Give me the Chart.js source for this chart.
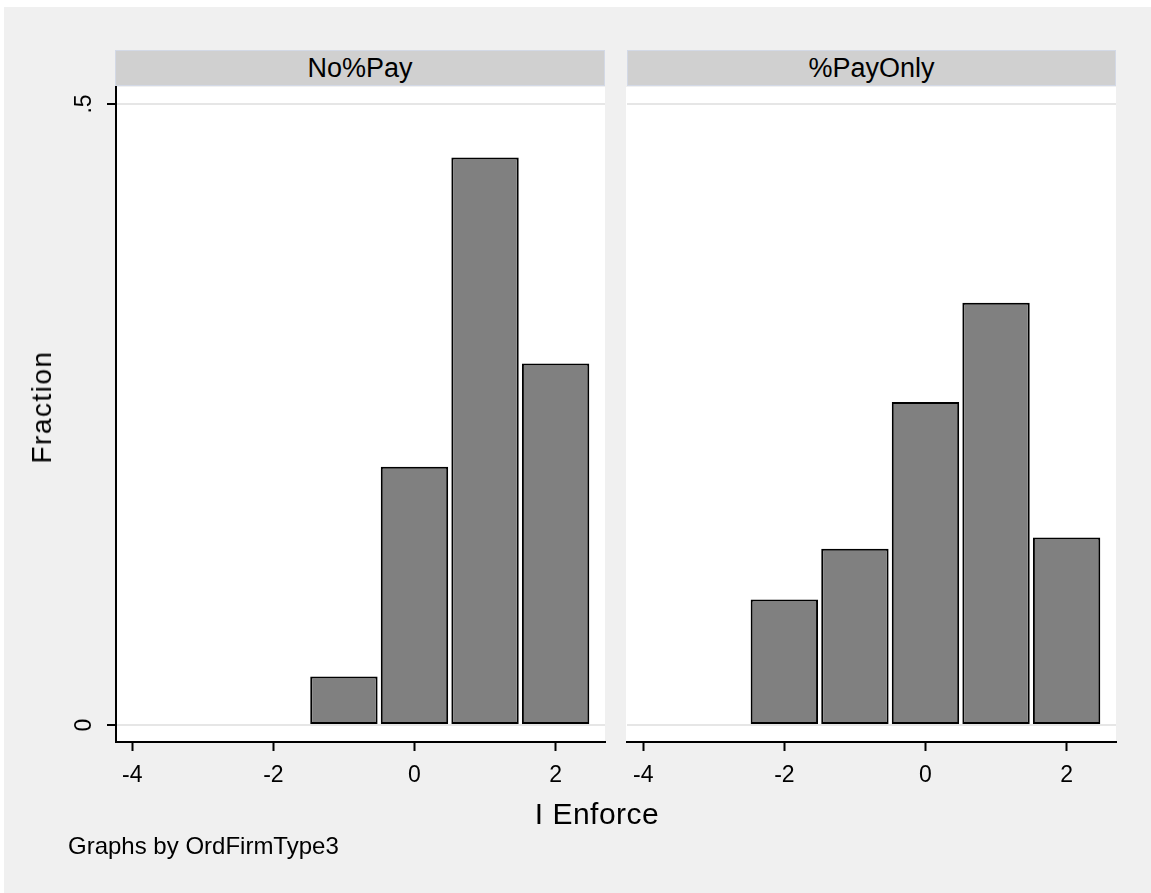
<!DOCTYPE html>
<html>
<head>
<meta charset="utf-8">
<script src="https://cdn.jsdelivr.net/npm/chart.js@4/dist/chart.umd.min.js"></script>
<style>
  html, body { margin: 0; padding: 0; background: #fff; }
  body { width: 1151px; height: 893px; position: relative; overflow: hidden; font-family: "Liberation Sans", Arial, sans-serif; }
  .bg { position: absolute; left: 4px; top: 7px; right: 0; bottom: 0; background: #f0f0f0; }
  canvas { position: absolute; top: 0; }
  .strip { position: absolute; top: 50px; height: 34px; background: #d0d0d0; border: 1px solid #d3d9e6;
           font-size: 27px; line-height: 34px; text-align: center; color: #000; }
  .txt { position: absolute; color: #000; white-space: nowrap; }
</style>
</head>
<body>
<div class="bg"></div>
<canvas id="leftChart" width="616" height="893" style="left:0"></canvas>
<canvas id="rightChart" width="535" height="893" style="left:616px"></canvas>
<div class="strip" style="left:115px; width:488px;">No%Pay</div>
<div class="strip" style="left:627px; width:487px;">%PayOnly</div>
<div class="txt" style="left:42px; top:407px; font-size:28px; letter-spacing:1.5px; transform: translate(-50%, -50%) rotate(-90deg);">Fraction</div>
<div class="txt" style="left:597px; top:814px; font-size:30px; letter-spacing:0.5px; transform: translate(-50%, -50%);">I Enforce</div>
<div class="txt" style="left:68px; top:846px; font-size:24px; transform: translateY(-50%);">Graphs by OrdFirmType3</div>
<script>
// histogram bins (centre of each unit-wide bin) and fractions per panel
const noPayBins = [-1, 0, 1, 2];
const noPayFractions = [0.039, 0.208, 0.457, 0.291];
const payOnlyBins = [-2, -1, 0, 1, 2];
const payOnlyFractions = [0.101, 0.142, 0.260, 0.340, 0.151];

const xTicks = [-4, -2, 0, 2];
const yTicks = [0, 0.5];

const FONT = '"Liberation Sans", Arial, sans-serif';

function stataNum(v) {
  if (v === 0) return '0';
  return String(v).replace(/^(-?)0\./, '$1.');
}

const plotBackground = {
  id: 'plotBackground',
  beforeDraw(chart) {
    const a = chart.chartArea;
    const ctx = chart.ctx;
    ctx.save();
    ctx.fillStyle = '#ffffff';
    ctx.fillRect(a.left - 1, a.top, a.right - a.left + 1, a.bottom - a.top);
    ctx.restore();
  },
};

// y tick labels are rotated like in Stata
const rotatedYLabels = {
  id: 'rotatedYLabels',
  afterDraw(chart, args, opts) {
    if (!opts.show) return;
    const y = chart.scales.y;
    const ctx = chart.ctx;
    ctx.save();
    ctx.font = '23px ' + FONT;
    ctx.fillStyle = '#000';
    ctx.textAlign = 'center';
    ctx.textBaseline = 'middle';
    y.ticks.forEach((t) => {
      ctx.save();
      ctx.translate(chart.chartArea.left - 31, y.getPixelForValue(t.value));
      ctx.rotate(-Math.PI / 2);
      ctx.fillText(stataNum(t.value), 0, 0);
      ctx.restore();
    });
    ctx.restore();
  },
};

function makePanel(canvasId, bins, fractions, withYAxis, padding, yWidth) {
  new Chart(document.getElementById(canvasId), {
    type: 'bar',
    data: {
      datasets: [
        {
          data: bins.map((b, i) => ({ x: b, y: fractions[i] })),
          backgroundColor: '#808080',
          borderColor: '#000000',
          borderWidth: 2,
          borderSkipped: false,
          barPercentage: 0.955,
          categoryPercentage: 1,
        },
      ],
    },
    options: {
      responsive: false,
      animation: false,
      layout: { padding: padding },
      plugins: {
        legend: { display: false },
        tooltip: { enabled: false },
        rotatedYLabels: { show: withYAxis },
      },
      scales: {
        x: {
          type: 'linear',
          min: -4.23,
          max: 2.70,
          offset: false,
          afterBuildTicks: (s) => { s.ticks = xTicks.map((v) => ({ value: v })); },
          afterFit: (s) => { s.height = 60; },
          grid: { display: true, drawOnChartArea: false, offset: false, tickLength: 9, tickColor: '#000', tickWidth: 2 },
          border: { display: true, color: '#000', width: 2 },
          ticks: { color: '#000', font: { family: FONT, size: 23 }, padding: 11, maxRotation: 0, callback: (v) => stataNum(v) },
        },
        y: {
          type: 'linear',
          min: -0.0137,
          max: 0.5137,
          afterBuildTicks: (s) => { s.ticks = yTicks.map((v) => ({ value: v })); },
          afterFit: (s) => { s.width = yWidth; },
          grid: { color: '#e6e6e6', lineWidth: 2, drawTicks: withYAxis, tickLength: 9, tickColor: '#000', tickWidth: 2 },
          border: { display: withYAxis, color: '#000', width: 2 },
          ticks: { display: false },
        },
      },
    },
    plugins: [plotBackground, rotatedYLabels],
  });
}

makePanel('leftChart', noPayBins, noPayFractions, true, { left: 0, top: 87, right: 11, bottom: 91 }, 116);
makePanel('rightChart', payOnlyBins, payOnlyFractions, false, { left: 0, top: 87, right: 35, bottom: 91 }, 11);
</script>
</body>
</html>
